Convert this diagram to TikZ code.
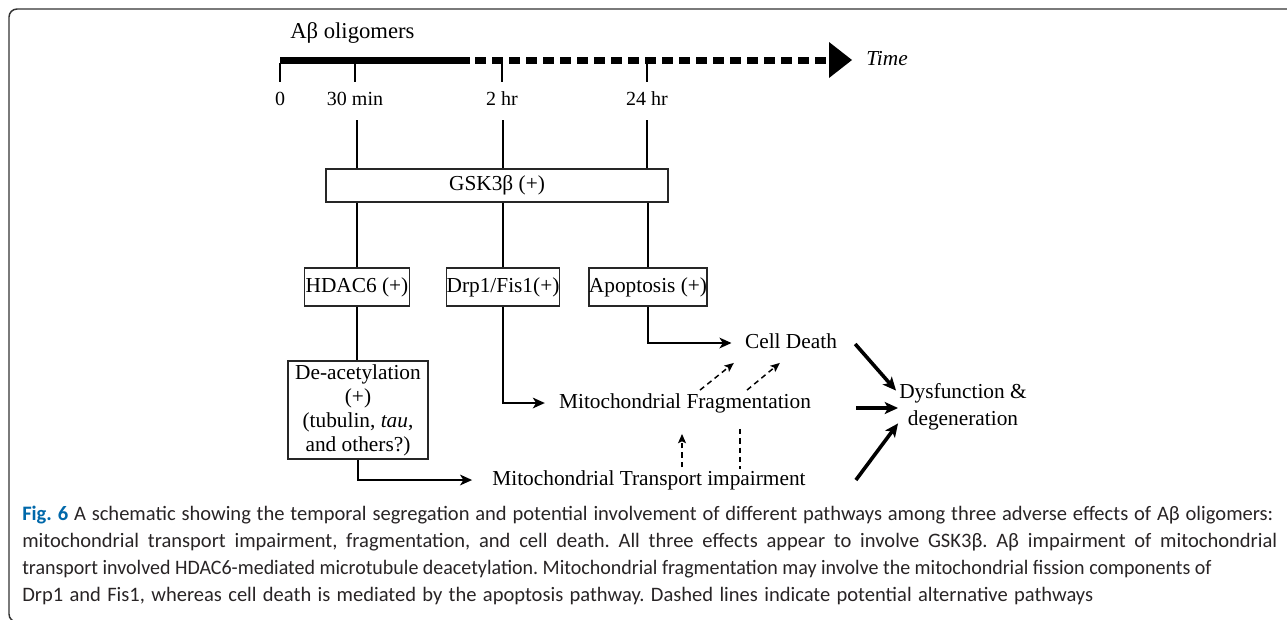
\documentclass[tikz,border=0pt]{standalone}
\usepackage{fontspec}
\setmainfont{Liberation Serif}
\newfontfamily\capfont{Carlito}
\usetikzlibrary{arrows.meta,calc}
\definecolor{figblue}{RGB}{0,104,170}
\definecolor{captxt}{RGB}{40,36,37}
\newcommand{\capline}[2]{\hbox to #1{\frenchspacing\spaceskip=0.226em plus 1em minus 0.06em #2}}
\begin{document}
\begin{tikzpicture}[x=0.75pt,y=-0.75pt,
  lbl/.style={font=\fontsize{16}{20}\selectfont, inner sep=0pt, text height=11pt, text depth=3.5pt},
  ticklbl/.style={font=\fontsize{15}{18}\selectfont, inner sep=0pt, text height=10.5pt, text depth=3pt},
  box/.style={draw=black!85, line width=0.9pt, font=\fontsize{16}{20}\selectfont, inner sep=0pt, minimum height=28.5pt},
  link/.style={line width=2.1pt},
  arr/.style={line width=2.1pt, -{Stealth[length=9pt,width=8pt,inset=2.5pt]}},
  bigarr/.style={line width=2.7pt, -{Stealth[length=10pt,width=9pt,inset=2.5pt]}},
  dasharr/.style={line width=1.1pt, dash pattern=on 4pt off 3pt, -{Stealth[length=7pt,width=6pt,inset=1.5pt]}},
  dashline/.style={line width=1.1pt, dash pattern=on 4pt off 3pt},
  tick/.style={line width=0.8pt},
  caption/.style={font=\capfont\fontsize{15.4}{20}\selectfont, text=captxt, inner sep=0pt, anchor=base west}]
\useasboundingbox (0,0) rectangle (1287,619);
% frame
\draw[line width=1.1pt, draw=black!80, rounded corners=6pt] (1290,9) -- (9,9) -- (9,622) -- (40,622);
% timeline
\coordinate (tl0) at (280,60);
\coordinate (tlmid) at (470,60);
\coordinate (tldash) at (475,60);
\coordinate (tlend) at (829,60);
\draw[line width=5.25pt] (tl0) -- (tlmid);
\draw[line width=5.25pt, dash pattern=on 8.25pt off 4.5pt] (tldash) -- (tlend);
\fill (829,42) -- (852,60) -- (829,78) -- cycle;
\node[lbl, anchor=west, font=\fontsize{16}{20}\selectfont\itshape] (time) at (866,60) {Time};
\node[lbl, anchor=west, font=\fontsize{17}{20}\selectfont] (abeta) at (290,33) {Aβ oligomers};
% ticks
\coordinate (k0) at (280,63);
\coordinate (k30) at (355,63);
\coordinate (k2) at (502,63);
\coordinate (k24) at (647,63);
\foreach \k in {k0,k30,k2,k24} \draw[tick] (\k) -- ++(0,19);
\node[ticklbl] (l0) at (280,100) {0};
\node[ticklbl] (l30) at (355,100) {30 min};
\node[ticklbl] (l2) at (502,100) {2 hr};
\node[ticklbl] (l24) at (647,100) {24 hr};
% boxes
\node[box, minimum width=256.5pt, minimum height=24.75pt] (gsk) at (497,185.5) {GSK3β (+)};
\node[box, minimum width=78.75pt] (hdac) at (357,287) {HDAC6 (+)};
\node[box, minimum width=83.25pt] (drp) at (503,287) {Drp1/Fis1(+)};
\node[box, minimum width=87.75pt] (apop) at (648,287) {Apoptosis (+)};
\node[box, minimum width=105pt, minimum height=73.5pt, align=center, font=\fontsize{16}{18}\selectfont] (deac) at (358,410) {De-acetylation\\(+)\\(tubulin, \textit{tau},\\and others?)};
% outcome labels
\node[lbl] (celld) at (791,343) {Cell Death};
\node[lbl] (frag) at (685,403) {Mitochondrial Fragmentation};
\node[lbl] (trans) at (649,480) {Mitochondrial Transport impairment};
\node[font=\fontsize{16}{20}\selectfont, inner sep=0pt, align=center] (dys) at (963,407) {Dysfunction \&\\degeneration};
% links from time points
\coordinate (s30) at ($(l30.south)+(2,11)$);
\coordinate (s2) at ($(l2.south)+(1,11)$);
\coordinate (s24) at ($(l24.south)+(0,11)$);
\draw[link] (s30) -- (s30 |- gsk.north);
\draw[link] (s2) -- (s2 |- gsk.north);
\draw[link] (s24) -- (s24 |- gsk.north);
\draw[link] (hdac.north |- gsk.south) -- (hdac.north);
\draw[link] (drp.north |- gsk.south) -- (drp.north);
\draw[link] (apop.north |- gsk.south) -- (apop.north);
\draw[link] (hdac.south) -- (hdac.south |- deac.north);
\draw[arr, shorten >=10pt] (apop.south) |- (celld.west);
\draw[arr, shorten >=10.5pt] (drp.south) |- (frag.west);
\draw[arr, shorten >=15pt] (deac.south) |- (trans.west);
% dashed alternative pathways
\draw[dasharr] ($(frag.north)+(15,-3)$) -- ($(celld.south west)+(-11,10)$);
\draw[dasharr] ($(frag.north)+(62,-3)$) -- ($(celld.south west)+(35,10)$);
\draw[dasharr] ($(trans.north)+(33,-3)$) -- ($(frag.south)+(-3,21)$);
\draw[dashline] ($(frag.south)+(55,16)$) -- ($(trans.north)+(91,-1)$);
% to dysfunction
\draw[bigarr] ($(celld.east)+(18,1)$) -- ($(dys.north west)+(-3,7)$);
\draw[bigarr] ($(frag.east)+(45,5)$) -- ($(dys.west)+(-1,1)$);
\draw[bigarr] ($(trans.east)+(50,0)$) -- ($(dys.south west)+(-1,-7)$);
% caption
\node[caption] (cap1) at (22,520) {\capline{938.25pt}{\textcolor{figblue}{\bfseries Fig. 6} A schematic showing the temporal segregation and potential involvement of different pathways among three adverse effects of Aβ oligomers:}};
\node[caption] (cap2) at (22,547) {\capline{941.25pt}{mitochondrial transport impairment, fragmentation, and cell death. All three effects appear to involve GSK3β. Aβ impairment of mitochondrial}};
\node[caption] (cap3) at (22,574) {\scalebox{0.973}[1]{\frenchspacing transport involved HDAC6-mediated microtubule deacetylation. Mitochondrial fragmentation may involve the mitochondrial fission components of}};
\node[caption] (cap4) at (22,601) {\capline{803.25pt}{Drp1 and Fis1, whereas cell death is mediated by the apoptosis pathway. Dashed lines indicate potential alternative pathways}};
\end{tikzpicture}
\end{document}
